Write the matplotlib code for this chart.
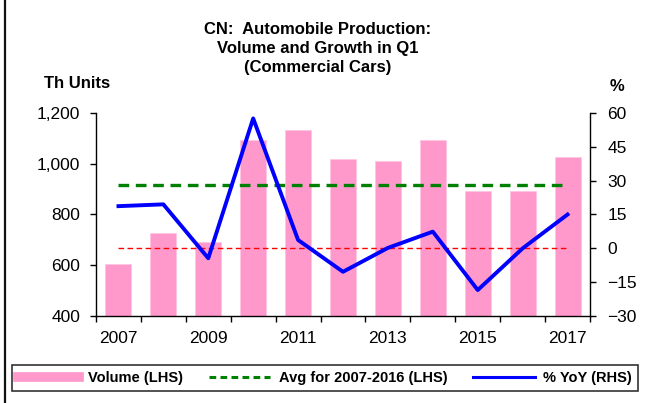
import numpy as np
import matplotlib.pyplot as plt
from matplotlib.ticker import FuncFormatter, FixedLocator
from matplotlib.patches import Rectangle
from matplotlib.lines import Line2D

plt.rcParams['font.family'] = ['Liberation Sans', 'DejaVu Sans']

years = [2007, 2008, 2009, 2010, 2011, 2012, 2013, 2014, 2015, 2016, 2017]
volume = [605, 726, 693, 1093, 1133, 1019, 1012, 1093, 894, 894, 1025]
yoy = [18.7, 19.5, -4.4, 57.6, 3.7, -10.4, 0.2, 7.4, -18.5, 0.0, 15.0]
avg_2007_2016 = 918
zero_line = 0

title = 'CN:  Automobile Production:\nVolume and Growth in Q1\n(Commercial Cars)'
left_label = 'Th Units'
right_label = '%'
legend_labels = ['Volume (LHS)', 'Avg for 2007-2016 (LHS)', '% YoY (RHS)']

fig = plt.figure(figsize=(6.46, 4.03), dpi=100)
ax = fig.add_axes([96/646, 1-316/403, (590-96)/646, (316-113)/403])
ax2 = ax.twinx()

x = np.arange(len(years))
bars = ax.bar(x, volume, width=0.58, color='#ff99cc', edgecolor='#ffc6e2', linewidth=0.6, zorder=1)
avg_ln, = ax.plot([x[0], x[-1]], [avg_2007_2016]*2, color='#008000', lw=2.4,
                  dashes=(3.2, 2.0), zorder=3)
ax2.plot([x[0], x[-1]], [zero_line]*2, color='red', lw=1.0, dashes=(4, 2.5), zorder=2)
yoy_ln, = ax2.plot(x, yoy, color='#0000ff', lw=2.8, zorder=4)

ax.set_xlim(-0.5, len(years)-0.5)
ax.set_ylim(400, 1200)
ax2.set_ylim(-30, 60)
ax.set_yticks(np.arange(400, 1201, 200))
ax2.set_yticks(np.arange(-30, 61, 15))
ax.yaxis.set_major_formatter(FuncFormatter(lambda v, p: f'{v:,.0f}'))

# ticks at category boundaries, labels at bar centres (odd years)
ax.xaxis.set_major_locator(FixedLocator(np.arange(-0.5, len(years), 1.0)))
ax.xaxis.set_minor_locator(FixedLocator(x))
ax.set_xticklabels([''] * 12)
ax.set_xticklabels([str(y) if y % 2 == 1 else '' for y in years], minor=True)
ax.tick_params(axis='x', which='major', direction='out', length=4.5, width=1.0)
ax.tick_params(axis='x', which='minor', length=0, pad=11, labelsize=12.5)
ax.tick_params(axis='y', direction='out', length=4.5, width=1.0, pad=7, labelsize=12.5)
ax2.tick_params(axis='y', direction='out', length=4.5, width=1.0, pad=8, labelsize=12.5)

for a in (ax, ax2):
    a.spines['top'].set_visible(False)
    for s in ('left', 'right', 'bottom'):
        a.spines[s].set_linewidth(1.0)
ax2.spines['left'].set_visible(False)
ax.spines['right'].set_visible(False)
ax2.spines['bottom'].set_visible(False)

fig.text(318/646, 1-22/403, title, ha='center', va='top', fontsize=12,
         fontweight='bold', linespacing=1.35)
fig.text(77/646, 1-88/403, left_label, ha='center', va='baseline', fontsize=12, fontweight='bold')
fig.text(617/646, 1-91/403, right_label, ha='center', va='baseline', fontsize=12, fontweight='bold')

handles = [Line2D([], [], color='#ff99cc', lw=7),
           Line2D([], [], color='#008000', lw=2.2, dashes=(2.2, 1.4)),
           Line2D([], [], color='#0000ff', lw=2.2)]
leg = fig.legend(handles, legend_labels, loc='center', ncol=3,
                 bbox_to_anchor=(12/646, 1-396/403, 626/646, 36/403), mode='expand',
                 frameon=True, fancybox=False, edgecolor='black', handlelength=4.2,
                 handletextpad=0.6, borderaxespad=0, borderpad=0.4,
                 prop={'weight': 'bold', 'size': 10.5})
leg.get_frame().set_linewidth(1.2)

# outer frame (top and left edge visible)
fig.patches.append(Rectangle((5/646, -0.2), 1.2, 1.2 + 1 - 8/403, fill=False,
                             edgecolor='#111111', lw=1.6, transform=fig.transFigure))

fig.savefig('out.png', dpi=100)
